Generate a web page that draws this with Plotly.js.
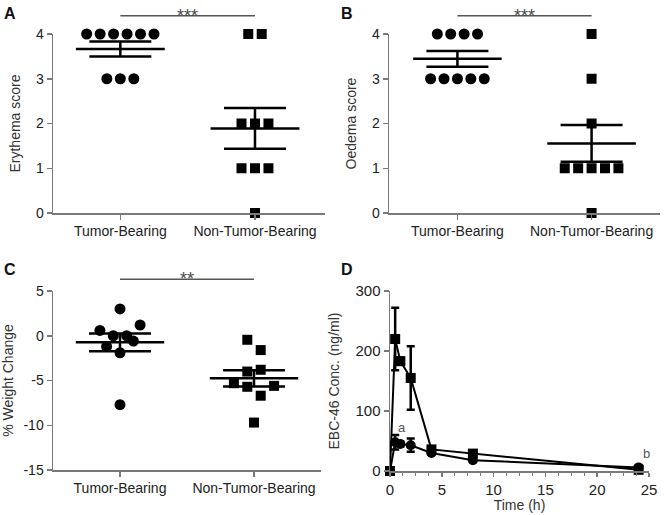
<!DOCTYPE html>
<html>
<head>
<meta charset="utf-8">
<script src="https://cdn.plot.ly/plotly-3.0.1.min.js"></script>
<style>
  body { margin: 0; background: #fff; }
  #chart { width: 670px; height: 515px; }
</style>
</head>
<body>
<div id="chart"></div>
<script>
const groups = ['Tumor-Bearing', 'Non-Tumor-Bearing'];

// A - erythema score per animal
const erythemaTumor = [4, 4, 4, 4, 4, 4, 3, 3, 3];
const erythemaNonTumor = [4, 4, 2, 2, 2, 1, 1, 1, 0];

// B - oedema score per animal
const oedemaTumor = [4, 4, 4, 4, 3, 3, 3, 3, 3];
const oedemaNonTumor = [4, 3, 2, 1, 1, 1, 1, 1, 0];

// C - % weight change, with the horizontal scatter
const weightTumor = [3.0, 1.2, 0.6, 0.0, 0.0, -0.6, -1.2, -1.9, -7.7];
const weightTumorJitter = [0, 0.15, -0.15, -0.05, 0.05, 0.1, -0.1, 0, 0];
const weightNonTumor = [-0.45, -1.6, -4.0, -3.8, -5.3, -5.7, -5.6, -6.7, -9.7];
const weightNonTumorJitter = [-0.05, 0.05, -0.05, 0.05, -0.15, -0.05, 0.15, 0.05, 0];

// D - EBC-46 plasma concentration
const timeH = [0, 0.5, 1, 2, 4, 8, 24];
const concSquare = [0, 220, 183, 155, 36, 29, 2];
const concSquareErr = [0, 52, 6, 53, 5, 4, 1];
const concCircle = [0, 48, 45, 43, 30, 18, 6];
const concCircleErr = [0, 12, 4, 11, 3, 3, 3];

const FONT = 'Liberation Sans, Arial, sans-serif';
const AXIS_COL = '#7a7a7a';
const W = 670, H = 515;

function mean(a) { return a.reduce((s, v) => s + v, 0) / a.length; }
function sem(a) {
  let m = mean(a);
  let ss = a.reduce((s, v) => s + (v - m) * (v - m), 0);
  return Math.sqrt(ss / (a.length - 1)) / Math.sqrt(a.length);
}
// spread identical scores into a centred row
function rowJitter(vals, step) {
  let seen = {};
  vals.forEach(v => { seen[v] = (seen[v] || 0) + 1; });
  let idx = {};
  return vals.map(v => {
    idx[v] = (idx[v] || 0);
    let off = (idx[v] - (seen[v] - 1) / 2) * step;
    idx[v]++;
    return off;
  });
}

// panel boxes in pixels
const boxes = {
  A: { x: [53, 325], y: [34, 213], xr: [-0.5, 1.52], yr: [0, 4] },
  B: { x: [389, 660], y: [34, 213], xr: [-0.51, 1.51], yr: [0, 4] },
  C: { x: [53, 321], y: [291, 470], xr: [-0.5, 1.5], yr: [-15, 5] },
  D: { x: [390, 649], y: [291, 471], xr: [0, 25], yr: [0, 300] }
};
const xdom = b => [b.x[0] / W, b.x[1] / W];
const ydom = b => [1 - b.y[1] / H, 1 - b.y[0] / H];
const toPaperX = (b, v) => (b.x[0] + (v - b.xr[0]) / (b.xr[1] - b.xr[0]) * (b.x[1] - b.x[0])) / W;
const toPaperY = (b, v) => 1 - (b.y[1] - (v - b.yr[0]) / (b.yr[1] - b.yr[0]) * (b.y[1] - b.y[0])) / H;

let traces = [];
let shapes = [];
let annotations = [];

function dotPanel(ax, b, sets, jitters) {
  sets.forEach((vals, g) => {
    let jit = jitters[g];
    traces.push({
      type: 'scatter', mode: 'markers', xaxis: 'x' + ax, yaxis: 'y' + ax,
      x: vals.map((v, i) => g + jit[i]), y: vals,
      marker: { symbol: g === 0 ? 'circle' : 'square', size: g === 0 ? 11 : 10, color: '#000' },
      cliponaxis: false, hoverinfo: 'y'
    });
    let m = mean(vals), s = sem(vals);
    traces.push({
      type: 'scatter', mode: 'lines', xaxis: 'x' + ax, yaxis: 'y' + ax,
      x: [g - 0.33, g + 0.33], y: [m, m],
      line: { color: '#000', width: 2.5 }, hoverinfo: 'skip'
    });
    traces.push({
      type: 'scatter', mode: 'markers', xaxis: 'x' + ax, yaxis: 'y' + ax,
      x: [g], y: [m],
      marker: { size: 1, color: 'rgba(0,0,0,0)' },
      error_y: { type: 'data', array: [s], color: '#000', thickness: 2.5, width: 31 },
      cliponaxis: false, hoverinfo: 'skip'
    });
  });
}

dotPanel(1, boxes.A, [erythemaTumor, erythemaNonTumor],
  [rowJitter(erythemaTumor, 0.1), rowJitter(erythemaNonTumor, 0.1)]);
dotPanel(2, boxes.B, [oedemaTumor, oedemaNonTumor],
  [rowJitter(oedemaTumor, 0.1), rowJitter(oedemaNonTumor, 0.1)]);
dotPanel(3, boxes.C, [weightTumor, weightNonTumor],
  [weightTumorJitter, weightNonTumorJitter]);

traces.push({
  type: 'scatter', mode: 'lines+markers', xaxis: 'x4', yaxis: 'y4',
  x: timeH, y: concSquare,
  line: { color: '#000', width: 2 },
  marker: { symbol: 'square', size: 10, color: '#000' },
  error_y: { type: 'data', array: concSquareErr, color: '#000', thickness: 2.5, width: 4 },
  cliponaxis: false
});
traces.push({
  type: 'scatter', mode: 'lines+markers', xaxis: 'x4', yaxis: 'y4',
  x: timeH, y: concCircle,
  line: { color: '#000', width: 2 },
  marker: { symbol: 'circle', size: 10, color: '#000' },
  error_y: { type: 'data', array: concCircleErr, color: '#000', thickness: 2.5, width: 4 },
  cliponaxis: false
});

// significance brackets
[['A', 4.41, '***'], ['B', 4.41, '***'], ['C', 6.3, '**']].forEach(([p, yv, stars]) => {
  let b = boxes[p];
  let y = toPaperY(b, yv);
  shapes.push({
    type: 'line', xref: 'paper', yref: 'paper',
    x0: toPaperX(b, 0), x1: toPaperX(b, 1), y0: y, y1: y,
    line: { color: '#555', width: 1.5 }
  });
  annotations.push({
    xref: 'paper', yref: 'paper', x: toPaperX(b, 0.5), y: y,
    text: stars, showarrow: false, xanchor: 'center', yanchor: 'bottom', yshift: -12,
    font: { family: FONT, size: 18, color: '#4a4a4a' }
  });
});

// panel letters
[['A', 10, 13], ['B', 347, 13], ['C', 10, 269], ['D', 347, 269]].forEach(([t, px, py]) => {
  annotations.push({
    xref: 'paper', yref: 'paper', x: px / W, y: 1 - py / H,
    text: '<b>' + t + '</b>', showarrow: false, xanchor: 'center', yanchor: 'middle',
    font: { family: FONT, size: 16, color: '#111' }
  });
});

// point labels in D
annotations.push({ xref: 'x4', yref: 'y4', x: 1.15, y: 72, text: 'a', showarrow: false,
  font: { family: FONT, size: 13, color: '#555' } });
annotations.push({ xref: 'x4', yref: 'y4', x: 24.8, y: 30, text: 'b', showarrow: false,
  font: { family: FONT, size: 13, color: '#555' } });

const tickFont = { family: FONT, size: 14, color: '#222' };
const tickFontD = { family: FONT, size: 15, color: '#222' };
const titleFont = { family: FONT, size: 14, color: '#333' };

function catAxis(b, anchor) {
  return {
    domain: xdom(b), range: b.xr, anchor: anchor,
    tickvals: [0, 1], ticktext: groups, tickfont: tickFont,
    showline: true, linecolor: AXIS_COL, linewidth: 1.5,
    ticks: 'outside', ticklen: 5, tickcolor: AXIS_COL, tickwidth: 1.5,
    showgrid: false, zeroline: false, fixedrange: true
  };
}
function valAxis(b, anchor, title, extra) {
  return Object.assign({
    domain: ydom(b), range: b.yr, anchor: anchor,
    tickfont: tickFont, title: { text: title, font: titleFont, standoff: 12 },
    showline: true, linecolor: AXIS_COL, linewidth: 1.5,
    ticks: 'outside', ticklen: 5, tickcolor: AXIS_COL, tickwidth: 1.5,
    showgrid: false, zeroline: false, fixedrange: true
  }, extra);
}

let layout = {
  width: W, height: H,
  margin: { l: 0, r: 0, t: 0, b: 0 },
  paper_bgcolor: '#fff', plot_bgcolor: '#fff',
  showlegend: false,
  font: { family: FONT },
  xaxis: catAxis(boxes.A, 'y'),
  yaxis: valAxis(boxes.A, 'x', 'Erythema score', { dtick: 1 }),
  xaxis2: catAxis(boxes.B, 'y2'),
  yaxis2: valAxis(boxes.B, 'x2', 'Oedema score', { dtick: 1 }),
  xaxis3: catAxis(boxes.C, 'y3'),
  yaxis3: valAxis(boxes.C, 'x3', '% Weight Change', {
    tickvals: [-15, -10, -5, 0, 5], ticktext: ['-15', '-10', '-5', '0', '5']
  }),
  xaxis4: {
    domain: xdom(boxes.D), range: boxes.D.xr, anchor: 'y4',
    dtick: 5, tickfont: tickFontD,
    title: { text: 'Time (h)', font: titleFont, standoff: 2 },
    showline: true, linecolor: AXIS_COL, linewidth: 1.5,
    ticks: 'outside', ticklen: 4, tickcolor: AXIS_COL, tickwidth: 1.5,
    minor: { dtick: 1.25, ticks: 'outside', ticklen: 3, tickcolor: AXIS_COL, tickwidth: 1 },
    showgrid: false, zeroline: false, fixedrange: true
  },
  yaxis4: valAxis(boxes.D, 'x4', 'EBC-46 Conc. (ng/ml)', { dtick: 100, tickfont: tickFontD }),
  shapes: shapes,
  annotations: annotations
};

Plotly.newPlot('chart', traces, layout, { displayModeBar: false, staticPlot: true });
</script>
</body>
</html>
